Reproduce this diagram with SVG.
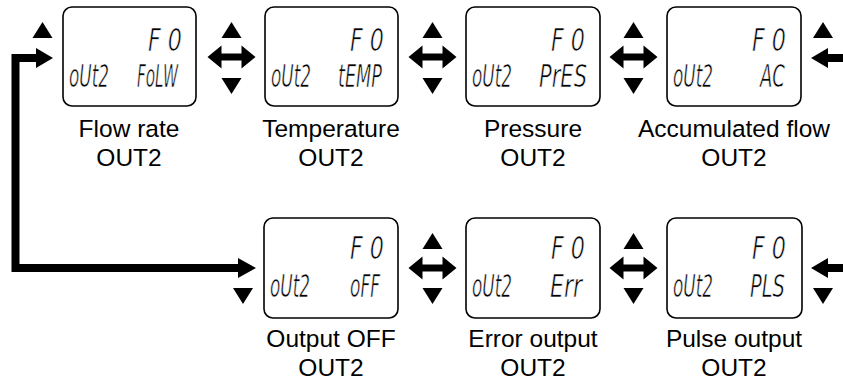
<svg xmlns="http://www.w3.org/2000/svg" xmlns:xlink="http://www.w3.org/1999/xlink" width="843" height="383" viewBox="0 0 843 383">
<style>
.box{fill:#fff;stroke:#000;stroke-width:1.6}
.lcd{font-family:"Liberation Sans Narrow","DejaVu Sans Condensed","Liberation Sans",sans-serif;font-size:32px;font-style:italic;fill:#000;stroke:#fff;stroke-width:0.7}
.lbl{font-family:"Liberation Sans",Arial,sans-serif;font-size:24.5px;fill:#000;text-anchor:middle}
.blk{fill:#000}
.line{fill:none;stroke:#000;stroke-width:8}
</style>
<defs>
<path id="up" d="M-10,8 L0,-8 L10,8 Z"/>
<path id="dn" d="M-10,-8 L0,8 L10,-8 Z"/>
<path id="dbl" d="M-24,0 L-10,-11.5 L-10,-3.5 L10,-3.5 L10,-11.5 L24,0 L10,11.5 L10,3.5 L-10,3.5 L-10,11.5 Z"/>
</defs>
<g id="connectors">
<path class="line" d="M40,58 H15.5 V268 H240"/>
<path class="blk" d="M36,48 L53,58 L36,68 Z"/>
<path class="blk" d="M238,258 L256,268 L238,278 Z"/>
<use href="#up" class="blk" x="42.5" y="30"/>
<use href="#dn" class="blk" x="243" y="296"/>
<use href="#up" class="blk" x="231.5" y="30"/>
<use href="#dbl" class="blk" x="231.5" y="57"/>
<use href="#dn" class="blk" x="231.5" y="86"/>
<use href="#up" class="blk" x="432.5" y="30"/>
<use href="#dbl" class="blk" x="432.5" y="57"/>
<use href="#dn" class="blk" x="432.5" y="86"/>
<use href="#up" class="blk" x="633.5" y="30"/>
<use href="#dbl" class="blk" x="633.5" y="57"/>
<use href="#dn" class="blk" x="633.5" y="86"/>
<use href="#up" class="blk" x="823" y="30"/>
<path class="blk" d="M811,58 L828,48 L828,54 L843,54 L843,62 L828,62 L828,68 Z"/>
<use href="#up" class="blk" x="432.5" y="241"/>
<use href="#dbl" class="blk" x="432.5" y="268"/>
<use href="#dn" class="blk" x="432.5" y="296"/>
<use href="#up" class="blk" x="633.5" y="241"/>
<use href="#dbl" class="blk" x="633.5" y="268"/>
<use href="#dn" class="blk" x="633.5" y="296"/>
<path class="blk" d="M811,268 L828,258 L828,264 L843,264 L843,272 L828,272 L828,278 Z"/>
<use href="#dn" class="blk" x="823" y="296"/>
</g>
<g id="n1">
<rect class="box" x="63" y="7" width="133" height="99" rx="9"/>
<text class="lcd" x="148" y="51" textLength="34" lengthAdjust="spacingAndGlyphs">F 0</text>
<text class="lcd" x="69" y="87" textLength="40" lengthAdjust="spacingAndGlyphs">oUt2</text>
<text class="lcd" x="137" y="87" textLength="41" lengthAdjust="spacingAndGlyphs">FoLW</text>
<text class="lbl" x="129" y="137">Flow rate</text>
<text class="lbl" x="129" y="166">OUT2</text>
</g>
<g id="n2">
<rect class="box" x="265" y="7" width="133" height="99" rx="9"/>
<text class="lcd" x="350" y="51" textLength="34" lengthAdjust="spacingAndGlyphs">F 0</text>
<text class="lcd" x="271" y="87" textLength="40" lengthAdjust="spacingAndGlyphs">oUt2</text>
<text class="lcd" x="338" y="87" textLength="44" lengthAdjust="spacingAndGlyphs">tEMP</text>
<text class="lbl" x="331" y="137">Temperature</text>
<text class="lbl" x="331" y="166">OUT2</text>
</g>
<g id="n3">
<rect class="box" x="466" y="7" width="134" height="99" rx="9"/>
<text class="lcd" x="551" y="51" textLength="34" lengthAdjust="spacingAndGlyphs">F 0</text>
<text class="lcd" x="472" y="87" textLength="40" lengthAdjust="spacingAndGlyphs">oUt2</text>
<text class="lcd" x="539" y="87" textLength="48" lengthAdjust="spacingAndGlyphs">PrES</text>
<text class="lbl" x="533" y="137">Pressure</text>
<text class="lbl" x="533" y="166">OUT2</text>
</g>
<g id="n4">
<rect class="box" x="667" y="7" width="134" height="99" rx="9"/>
<text class="lcd" x="752" y="51" textLength="34" lengthAdjust="spacingAndGlyphs">F 0</text>
<text class="lcd" x="673" y="87" textLength="40" lengthAdjust="spacingAndGlyphs">oUt2</text>
<text class="lcd" x="760" y="87" textLength="25" lengthAdjust="spacingAndGlyphs">AC</text>
<text class="lbl" x="734" y="137">Accumulated flow</text>
<text class="lbl" x="734" y="166">OUT2</text>
</g>
<g id="n5">
<rect class="box" x="264" y="218" width="134" height="100" rx="9"/>
<text class="lcd" x="350" y="259" textLength="34" lengthAdjust="spacingAndGlyphs">F 0</text>
<text class="lcd" x="270" y="297" textLength="40" lengthAdjust="spacingAndGlyphs">oUt2</text>
<text class="lcd" x="350" y="297" textLength="30" lengthAdjust="spacingAndGlyphs">oFF</text>
<text class="lbl" x="331" y="347">Output OFF</text>
<text class="lbl" x="331" y="376">OUT2</text>
</g>
<g id="n6">
<rect class="box" x="466" y="218" width="134" height="100" rx="9"/>
<text class="lcd" x="551" y="259" textLength="34" lengthAdjust="spacingAndGlyphs">F 0</text>
<text class="lcd" x="472" y="297" textLength="40" lengthAdjust="spacingAndGlyphs">oUt2</text>
<text class="lcd" x="550" y="297" textLength="32" lengthAdjust="spacingAndGlyphs">Err</text>
<text class="lbl" x="533" y="347">Error output</text>
<text class="lbl" x="533" y="376">OUT2</text>
</g>
<g id="n7">
<rect class="box" x="667" y="218" width="135" height="100" rx="9"/>
<text class="lcd" x="752" y="259" textLength="34" lengthAdjust="spacingAndGlyphs">F 0</text>
<text class="lcd" x="673" y="297" textLength="40" lengthAdjust="spacingAndGlyphs">oUt2</text>
<text class="lcd" x="750" y="297" textLength="35" lengthAdjust="spacingAndGlyphs">PLS</text>
<text class="lbl" x="734" y="347">Pulse output</text>
<text class="lbl" x="734" y="376">OUT2</text>
</g>
</svg>
